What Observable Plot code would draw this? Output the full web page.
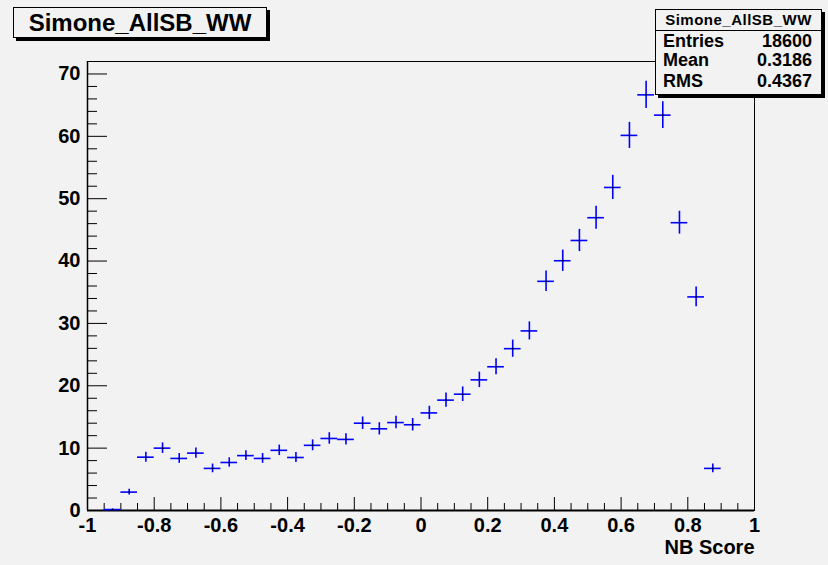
<!DOCTYPE html>
<html>
<head>
<meta charset="utf-8">
<script src="https://cdn.jsdelivr.net/npm/d3@7"></script>
<script src="https://cdn.jsdelivr.net/npm/@observablehq/plot@0.6"></script>
<style>
  html, body { margin: 0; padding: 0; background: #f2f2f2; }
  #wrap { position: relative; width: 828px; height: 565px; background: #f2f2f2; font-family: "Liberation Sans", Arial, Helvetica, sans-serif; font-weight: bold; color: #000; }
  #chart { position: absolute; left: 0; top: 0; }
  .title { position: absolute; left: 13px; top: 7px; width: 254px; height: 31px; box-sizing: border-box; border: 1px solid #000; box-shadow: 3px 3px 0 #000; background: #f2f2f2; font-size: 24px; line-height: 29px; text-align: center; }
  .stats { position: absolute; left: 655px; top: 9px; width: 167px; height: 86px; box-sizing: border-box; border: 1px solid #000; box-shadow: 3px 3px 0 #000; background: #f2f2f2; }
  .stats .head { position: absolute; left: 0; top: 0; right: 0; height: 20px; border-bottom: 1px solid #000; font-size: 15px; letter-spacing: 0.5px; line-height: 20px; text-align: center; }
  .stats .row { position: absolute; left: 7px; right: 9px; font-size: 18px; line-height: 18px; height: 18px; }
  .stats .row .k { position: absolute; left: 0; }
  .stats .row .v { position: absolute; right: 0; }
</style>
</head>
<body>
<div id="wrap">
  <div id="chart"></div>
  <div class="title">Simone_AllSB_WW</div>
  <div class="stats" id="stats"></div>
</div>
<script>
// ---- data ----
const histTitle = "Simone_AllSB_WW";
const xAxisTitle = "NB Score";
const binWidth = 0.05;
const binCenters = [-0.925, -0.875, -0.825, -0.775, -0.725, -0.675, -0.625, -0.575, -0.525, -0.475,
                    -0.425, -0.375, -0.325, -0.275, -0.225, -0.175, -0.125, -0.075, -0.025, 0.025,
                    0.075, 0.125, 0.175, 0.225, 0.275, 0.325, 0.375, 0.425, 0.475, 0.525,
                    0.575, 0.625, 0.675, 0.725, 0.775, 0.825, 0.875];
const binContents = [0.15, 2.95, 8.55, 10.0, 8.35, 9.2, 6.75, 7.7, 8.8, 8.35,
                     9.65, 8.5, 10.45, 11.55, 11.4, 14.0, 13.1, 14.1, 13.75, 15.65,
                     17.7, 18.65, 20.95, 23.05, 25.95, 28.8, 36.75, 40.05, 43.3, 46.95,
                     51.8, 60.15, 66.65, 63.4, 46.15, 34.25, 6.75];
const binErrors = [0.1, 0.45, 0.8, 0.85, 0.78, 0.82, 0.7, 0.75, 0.8, 0.78,
                   0.84, 0.79, 0.87, 0.92, 0.91, 1.0, 0.98, 1.0, 1.0, 1.07,
                   1.13, 1.17, 1.24, 1.3, 1.38, 1.45, 1.64, 1.71, 1.78, 1.85,
                   1.94, 2.09, 2.2, 2.15, 1.83, 1.58, 0.7];
const xMajorTicks = [-1, -0.8, -0.6, -0.4, -0.2, 0, 0.2, 0.4, 0.6, 0.8, 1];
const xMajorLabels = ["-1", "-0.8", "-0.6", "-0.4", "-0.2", "0", "0.2", "0.4", "0.6", "0.8", "1"];
const xMinorTicks = [-0.95, -0.9, -0.85, -0.75, -0.7, -0.65, -0.55, -0.5, -0.45, -0.35, -0.3, -0.25,
                     -0.15, -0.1, -0.05, 0.05, 0.1, 0.15, 0.25, 0.3, 0.35, 0.45, 0.5, 0.55,
                     0.65, 0.7, 0.75, 0.85, 0.9, 0.95];
const yMajorTicks = [0, 10, 20, 30, 40, 50, 60, 70];
const yMinorTicks = [2, 4, 6, 8, 12, 14, 16, 18, 22, 24, 26, 28, 32, 34, 36, 38, 42, 44, 46, 48,
                     52, 54, 56, 58, 62, 64, 66, 68, 72];
const statLabels = ["Entries", "Mean", "RMS"];
const statValues = ["18600", "0.3186", "0.4367"];

// ---- build ----
const data = binCenters.map((c, i) => ({
  c, lo: c - binWidth / 2, hi: c + binWidth / 2,
  v: binContents[i], e: binErrors[i]
}));

const W = 828, H = 565;
const mL = 87, mR = 74, mT = 61, mB = 55;
const plotW = W - mL - mR, plotH = H - mT - mB;
const fmtX = d => xMajorLabels[xMajorTicks.indexOf(d)] ?? String(d);
const blue = "#0000ff";

const chart = Plot.plot({
  width: W, height: H,
  marginLeft: mL, marginRight: mR, marginTop: mT, marginBottom: mB,
  style: { background: "transparent", fontFamily: "'Liberation Sans', Arial, Helvetica, sans-serif", fontWeight: "bold", color: "#000", overflow: "visible" },
  x: { domain: [-1, 1] },
  y: { domain: [0, 72] },
  marks: [
    Plot.frame({ stroke: "#000", strokeWidth: 1 }),
    Plot.ruleY([0], { stroke: "#000", strokeWidth: 2 }),
    Plot.ruleX([-1], { stroke: "#000", strokeWidth: 1.5 }),
    Plot.tickX(xMajorTicks, { x: d => d, stroke: "#000", insetTop: plotH - 13 }),
    Plot.tickX(xMinorTicks, { x: d => d, stroke: "#000", insetTop: plotH - 7 }),
    Plot.tickY(yMajorTicks.filter(d => d > 0), { y: d => d, stroke: "#000", insetRight: plotW - 20 }),
    Plot.tickY(yMinorTicks, { y: d => d, stroke: "#000", insetRight: plotW - 10 }),
    Plot.axisX({ ticks: xMajorTicks, tickSize: 0, tickPadding: 7, tickFormat: fmtX, fontSize: 20, fontWeight: "bold", label: null }),
    Plot.axisY({ ticks: yMajorTicks, tickSize: 0, tickPadding: 7, tickFormat: d => String(d), fontSize: 20, fontWeight: "bold", label: null }),
    Plot.text([xAxisTitle], { text: d => d, frameAnchor: "bottom-right", dy: 43, textAnchor: "end", fontSize: 20, fontWeight: "bold", fill: "#000" }),
    Plot.ruleY(data, { y: "v", x1: "lo", x2: "hi", stroke: blue, strokeWidth: 1.6 }),
    Plot.ruleX(data, { x: "c", y1: d => d.v - d.e, y2: d => d.v + d.e, stroke: blue, strokeWidth: 1.6 }),
    Plot.dot(data, { x: "c", y: "v", r: 0.8, fill: "#000", stroke: null })
  ]
});
document.getElementById("chart").appendChild(chart);

const stats = document.getElementById("stats");
const head = document.createElement("div");
head.className = "head";
head.textContent = histTitle;
stats.appendChild(head);
const rowTops = [21.5, 41.3, 62.3];
statLabels.forEach((k, i) => {
  const row = document.createElement("div");
  row.className = "row";
  row.style.top = rowTops[i] + "px";
  row.innerHTML = `<span class="k">${k}</span><span class="v">${statValues[i]}</span>`;
  stats.appendChild(row);
});
</script>
</body>
</html>
